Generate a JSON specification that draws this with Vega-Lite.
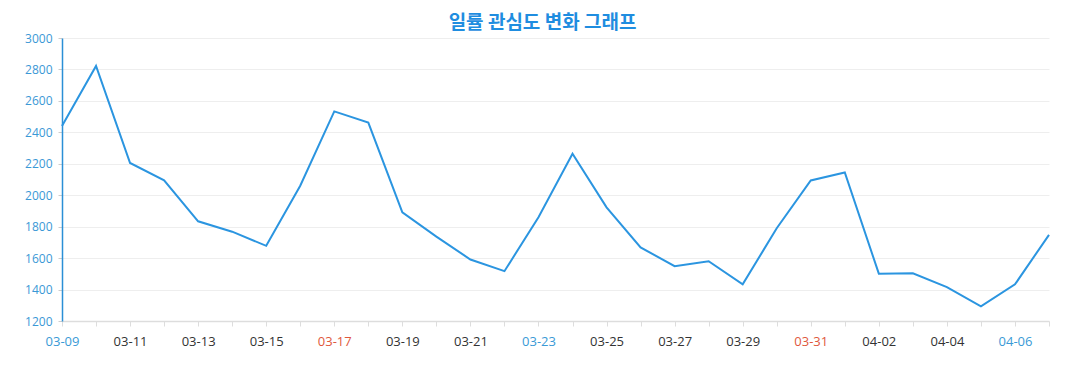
{
  "$schema": "https://vega.github.io/schema/vega-lite/v6.json",
  "width": 987,
  "height": 283,
  "autosize": "none",
  "padding": {"left": 62, "top": 38, "right": 28, "bottom": 69},
  "background": "white",
  "title": {
    "text": "일률 관심도 변화 그래프",
    "font": "Noto Sans CJK KR",
    "fontSize": 19,
    "fontWeight": "bold",
    "color": "#1f8de0",
    "anchor": "middle",
    "dx": -13,
    "offset": -1
  },
  "data": {
    "values": [
      {"date": "03-09", "value": 2440},
      {"date": "03-10", "value": 2822},
      {"date": "03-11", "value": 2205},
      {"date": "03-12", "value": 2095},
      {"date": "03-13", "value": 1834},
      {"date": "03-14", "value": 1768},
      {"date": "03-15", "value": 1678},
      {"date": "03-16", "value": 2060},
      {"date": "03-17", "value": 2533},
      {"date": "03-18", "value": 2462},
      {"date": "03-19", "value": 1891},
      {"date": "03-20", "value": 1737},
      {"date": "03-21", "value": 1591},
      {"date": "03-22", "value": 1517},
      {"date": "03-23", "value": 1860},
      {"date": "03-24", "value": 2264},
      {"date": "03-25", "value": 1923},
      {"date": "03-26", "value": 1668},
      {"date": "03-27", "value": 1549},
      {"date": "03-28", "value": 1580},
      {"date": "03-29", "value": 1433},
      {"date": "03-30", "value": 1790},
      {"date": "03-31", "value": 2094},
      {"date": "04-01", "value": 2145},
      {"date": "04-02", "value": 1501},
      {"date": "04-03", "value": 1503},
      {"date": "04-04", "value": 1415},
      {"date": "04-05", "value": 1293},
      {"date": "04-06", "value": 1433},
      {"date": "04-07", "value": 1748}
    ]
  },
  "config": {
    "view": {"stroke": null},
    "font": "Open Sans"
  },
  "mark": {"type": "line", "color": "#2b95e0", "strokeWidth": 2, "interpolate": "linear"},
  "encoding": {
    "x": {
      "field": "date",
      "type": "ordinal",
      "sort": null,
      "scale": {"type": "point", "padding": 0},
      "axis": {
        "title": null,
        "labelAngle": 0,
        "labelFont": "Open Sans",
        "labelFontSize": 13,
        "labelPadding": 9,
        "tickSize": 5,
        "tickColor": "#dddddd",
        "domainColor": "#dddddd",
        "domainWidth": 1.5,
        "grid": false,
        "labelExpr": "((substring(datum.value,0,2) == '03') == (toNumber(substring(datum.value,3,5)) % 2 == 1)) ? datum.value : ''",
        "labelColor": {"expr": "indexof(['03-09','03-23','04-06'], datum.value) >= 0 ? '#3a9ad6' : (indexof(['03-17','03-31'], datum.value) >= 0 ? '#e0583c' : '#333333')"}
      }
    },
    "y": {
      "field": "value",
      "type": "quantitative",
      "scale": {"domain": [1200, 3000], "nice": false, "zero": false},
      "axis": {
        "title": null,
        "format": "d",
        "values": [1200, 1400, 1600, 1800, 2000, 2200, 2400, 2600, 2800, 3000],
        "labelFont": "Open Sans",
        "labelFontSize": 12,
        "labelColor": "#3a98d6",
        "labelPadding": 6,
        "tickSize": 4,
        "tickColor": "#cccccc",
        "domainColor": "#2b8fd6",
        "domainWidth": 1.5,
        "grid": true,
        "gridColor": "#eeeeee",
        "gridWidth": 1
      }
    }
  }
}
